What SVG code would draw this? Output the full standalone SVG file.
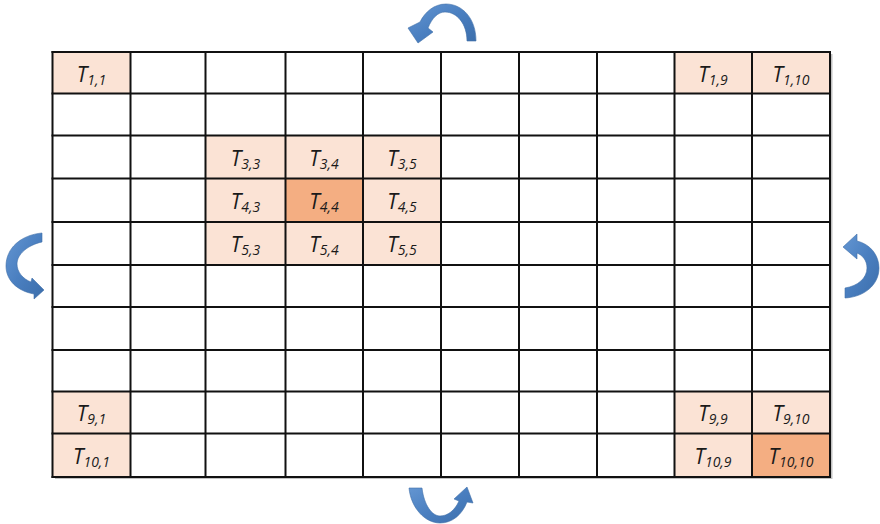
<svg xmlns="http://www.w3.org/2000/svg" width="880" height="524" viewBox="0 0 880 524">
  <defs>
    <linearGradient id="blueFill" x1="0" y1="0" x2="1" y2="1">
      <stop offset="0" stop-color="#6496d2"/>
      <stop offset="0.5" stop-color="#4a7fc0"/>
      <stop offset="1" stop-color="#3c6eab"/>
    </linearGradient>
  </defs>
  <style>
    .light { fill: #fbe3d5; }
    .dark { fill: #f4ae82; }
    .grid line { stroke: #111; stroke-width: 2; }
    .lbl { font-family: "Open Sans", "Liberation Sans", sans-serif; font-style: italic; font-size: 21px; fill: #1a1a1a; text-anchor: middle; }
    .sub { font-size: 14px; }
    .arrow { fill: url(#blueFill); stroke: #3f6ea8; stroke-width: 0.6; }
  </style>
  <rect width="880" height="524" fill="#ffffff"/>

  <!-- soft drop shadow along right and bottom edges -->
  <rect x="55" y="54" width="777.5" height="425" fill="#9a9a9a" opacity="0.6"/>
  <rect x="52.5" y="52" width="777.5" height="425" fill="#ffffff"/>

  <!-- highlighted tiles -->
  <g id="t1_1"><rect class="light" x="52.5" y="52" width="78" height="41.5"/><text class="lbl" x="91.5" y="82">T<tspan class="sub" dy="3">1,1</tspan></text></g>
  <g id="t1_9"><rect class="light" x="674.5" y="52" width="77.5" height="41.5"/><text class="lbl" x="713" y="82">T<tspan class="sub" dy="3">1,9</tspan></text></g>
  <g id="t1_10"><rect class="light" x="752" y="52" width="78" height="41.5"/><text class="lbl" x="791" y="82">T<tspan class="sub" dy="3">1,10</tspan></text></g>

  <g id="t3_3"><rect class="light" x="205.5" y="135.5" width="80" height="43"/><text class="lbl" x="245.5" y="166">T<tspan class="sub" dy="3">3,3</tspan></text></g>
  <g id="t3_4"><rect class="light" x="285.5" y="135.5" width="77.5" height="43"/><text class="lbl" x="324" y="166">T<tspan class="sub" dy="3">3,4</tspan></text></g>
  <g id="t3_5"><rect class="light" x="363" y="135.5" width="78" height="43"/><text class="lbl" x="402" y="166">T<tspan class="sub" dy="3">3,5</tspan></text></g>

  <g id="t4_3"><rect class="light" x="205.5" y="178.5" width="80" height="43.5"/><text class="lbl" x="245.5" y="209">T<tspan class="sub" dy="3">4,3</tspan></text></g>
  <g id="t4_4"><rect class="dark" x="285.5" y="178.5" width="77.5" height="43.5"/><text class="lbl" x="324" y="209">T<tspan class="sub" dy="3">4,4</tspan></text></g>
  <g id="t4_5"><rect class="light" x="363" y="178.5" width="78" height="43.5"/><text class="lbl" x="402" y="209">T<tspan class="sub" dy="3">4,5</tspan></text></g>

  <g id="t5_3"><rect class="light" x="205.5" y="222" width="80" height="43"/><text class="lbl" x="245.5" y="252">T<tspan class="sub" dy="3">5,3</tspan></text></g>
  <g id="t5_4"><rect class="light" x="285.5" y="222" width="77.5" height="43"/><text class="lbl" x="324" y="252">T<tspan class="sub" dy="3">5,4</tspan></text></g>
  <g id="t5_5"><rect class="light" x="363" y="222" width="78" height="43"/><text class="lbl" x="402" y="252">T<tspan class="sub" dy="3">5,5</tspan></text></g>

  <g id="t9_1"><rect class="light" x="52.5" y="391.5" width="78" height="42"/><text class="lbl" x="91.5" y="421">T<tspan class="sub" dy="3">9,1</tspan></text></g>
  <g id="t10_1"><rect class="light" x="52.5" y="433.5" width="78" height="43.5"/><text class="lbl" x="91.5" y="464">T<tspan class="sub" dy="3">10,1</tspan></text></g>
  <g id="t9_9"><rect class="light" x="674.5" y="391.5" width="77.5" height="42"/><text class="lbl" x="713" y="421">T<tspan class="sub" dy="3">9,9</tspan></text></g>
  <g id="t9_10"><rect class="light" x="752" y="391.5" width="78" height="42"/><text class="lbl" x="791" y="421">T<tspan class="sub" dy="3">9,10</tspan></text></g>
  <g id="t10_9"><rect class="light" x="674.5" y="433.5" width="77.5" height="43.5"/><text class="lbl" x="713" y="464">T<tspan class="sub" dy="3">10,9</tspan></text></g>
  <g id="t10_10"><rect class="dark" x="752" y="433.5" width="78" height="43.5"/><text class="lbl" x="791" y="464">T<tspan class="sub" dy="3">10,10</tspan></text></g>

  <!-- 10 x 10 grid lines -->
  <g class="grid" id="grid">
    <line x1="52.5" y1="51" x2="52.5" y2="478"/>
    <line x1="130.5" y1="51" x2="130.5" y2="478"/>
    <line x1="205.5" y1="51" x2="205.5" y2="478"/>
    <line x1="285.5" y1="51" x2="285.5" y2="478"/>
    <line x1="363" y1="51" x2="363" y2="478"/>
    <line x1="441" y1="51" x2="441" y2="478"/>
    <line x1="519" y1="51" x2="519" y2="478"/>
    <line x1="597" y1="51" x2="597" y2="478"/>
    <line x1="674.5" y1="51" x2="674.5" y2="478"/>
    <line x1="752" y1="51" x2="752" y2="478"/>
    <line x1="830" y1="51" x2="830" y2="478"/>
    <line x1="51.5" y1="52" x2="831" y2="52"/>
    <line x1="51.5" y1="93.5" x2="831" y2="93.5"/>
    <line x1="51.5" y1="135.5" x2="831" y2="135.5"/>
    <line x1="51.5" y1="178.5" x2="831" y2="178.5"/>
    <line x1="51.5" y1="222" x2="831" y2="222"/>
    <line x1="51.5" y1="265" x2="831" y2="265"/>
    <line x1="51.5" y1="307" x2="831" y2="307"/>
    <line x1="51.5" y1="350" x2="831" y2="350"/>
    <line x1="51.5" y1="391.5" x2="831" y2="391.5"/>
    <line x1="51.5" y1="433.5" x2="831" y2="433.5"/>
    <line x1="51.5" y1="477" x2="831" y2="477"/>
  </g>

  <!-- wrap-around arrows on the four sides -->
  <g id="connectors">
    <path class="arrow" d="M467,41 L476,41 C476,18 462,4 446,4 C434,4 425,12 420,22 L408,28 L418,43 L433,32 L428,28 C432,18 438,12 445,12 C457,12 467,24 467,41 Z"/>
    <path class="arrow" d="M409,488 L422,488 C424,505 432,516 440,516 C448,516 455,510 459,501 L454,499 L467,487 L473,503 L467,502 C462,515 452,523 440,523 C425,523 411,508 409,488 Z"/>
    <path class="arrow" d="M42,233 L42,242 C28,245 17,254 17,264 C17,272 23,279 31,282 L32,278 L44,290 L34,299 L34,294 C17,291 6,280 6,266 C6,248 21,235 42,233 Z"/>
    <path class="arrow" d="M845,288 C858,286 867,278 867,268 C867,260 862,255 857,253 L857,259 L843,247 L857,234 L857,241 C870,244 879,255 879,268 C879,285 864,297 845,298 Z"/>
  </g>
</svg>
